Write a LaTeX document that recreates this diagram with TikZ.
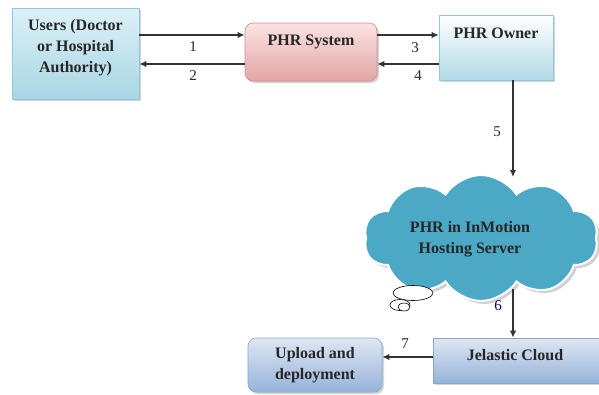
\documentclass[tikz,border=0pt]{standalone}
\usepackage{fontspec}
\setmainfont{Liberation Serif}
\usetikzlibrary{arrows.meta,shapes.symbols,shapes.geometric,shadows,calc}
\definecolor{arr}{HTML}{333333}
\definecolor{cloudfill}{HTML}{4BA9C5}
\definecolor{utop}{HTML}{DDF1F7}
\definecolor{ubot}{HTML}{A8D6E3}
\definecolor{uline}{HTML}{93C6D6}
\definecolor{stop}{HTML}{FBE3E3}
\definecolor{sbot}{HTML}{E2A6A6}
\definecolor{sline}{HTML}{D08C8C}
\definecolor{jtop}{HTML}{DEE7F3}
\definecolor{jbot}{HTML}{96B3D8}
\definecolor{jline}{HTML}{8AA6CC}
\tikzset{
  boxshadow/.style={drop shadow={shadow xshift=2pt,shadow yshift=-2pt,opacity=0.35,fill=gray}},
  ubox/.style={draw=uline, line width=0.6pt, top color=utop, bottom color=ubot, boxshadow},
  sysbox/.style={draw=sline, line width=0.6pt, rounded corners=8pt, top color=stop, bottom color=sbot, boxshadow},
  ownbox/.style={draw=uline, line width=0.6pt, top color=white, bottom color=ubot!90!white, boxshadow},
  jbox/.style={draw=jline, line width=0.6pt, top color=jtop, bottom color=jbot, boxshadow},
  upbox/.style={draw=jline, line width=0.6pt, rounded corners=8pt, top color=jtop, bottom color=jbot, boxshadow},
  btxt/.style={font=\fontsize{16}{21}\selectfont\bfseries, align=center, text=black!85},
  num/.style={font=\fontsize{15}{16}\selectfont, text=black!85},
  flow/.style={draw=arr, line width=1.4pt, -{Latex[length=7pt,width=6.5pt]}},
  bubble/.style={draw=black, fill=white, ellipse, inner sep=0pt, line width=0.6pt},
}
\begin{document}
\begin{tikzpicture}[x=1pt,y=-1pt]
\useasboundingbox (0,0) rectangle (599,394);
% boxes
\node[ubox, minimum width=127pt, minimum height=91pt, inner sep=0pt] (users) at (75.5,53.5) {};
\node[btxt] (userst) at (75.5,48) {Users (Doctor\\or Hospital\\Authority)};
\node[sysbox, minimum width=132pt, minimum height=58pt, inner sep=0pt] (sys) at (311,52) {};
\node[btxt] (syst) at (311,42) {PHR System};
\node[ownbox, minimum width=114pt, minimum height=65pt, inner sep=0pt] (owner) at (496,47.5) {};
\node[btxt] (ownert) at (496,33) {PHR Owner};
% cloud
\node[cloud, cloud puffs=10, cloud puff arc=115, aspect=1.9, minimum width=234pt, minimum height=126pt, fill=gray!60, opacity=0.6] (cloudsh) at (484,241) {};
\node[cloud, cloud puffs=10, cloud puff arc=115, aspect=1.9, minimum width=234pt, minimum height=126pt, fill=cloudfill, draw=white, line width=2pt] (cloud) at (481,238) {};
\node[btxt] (cloudt) at (470,239) {PHR in InMotion\\Hosting Server};
\node[bubble, minimum width=40pt, minimum height=15pt] (bub1) at (413,293) {};
\node[bubble, minimum width=20pt, minimum height=11pt] (bub2) at (400,305) {};
\node[bubble, minimum width=12pt, minimum height=8pt] (bub3) at (404,307) {};
% bottom boxes
\node[jbox, minimum width=166pt, minimum height=45pt, inner sep=0pt] (jel) at (516,360.5) {};
\node[btxt] (jelt) at (515,355) {Jelastic Cloud};
\node[upbox, minimum width=134pt, minimum height=54pt, inner sep=0pt] (up) at (315,365) {};
\node[btxt] (upt) at (315,365) {Upload and\\deployment};
% connector coordinates
\coordinate (ya) at (0,35);
\coordinate (yb) at (0,64);
\coordinate (x5) at (513,0);
\coordinate (c5) at (513,177);
\coordinate (c6) at (513,289);
\coordinate (y7) at (0,357);
% connectors
\draw[flow] (users.east |- ya) -- (sys.west |- ya);
\draw[flow] (sys.west |- yb) -- (users.east |- yb);
\draw[flow] (sys.east |- ya) -- (owner.west |- ya);
\draw[flow] (owner.west |- yb) -- (sys.east |- yb);
\draw[flow] (owner.south -| x5) -- (c5);
\draw[flow] (c6) -- (jel.north -| x5);
\draw[flow] (jel.west |- y7) -- (up.east |- y7);
% labels
\node[num] (n1) at (193,47) {1};
\node[num] (n2) at (193,76) {2};
\node[num] (n3) at (415,48) {3};
\node[num] (n4) at (418,76) {4};
\node[num] (n5) at (497,132) {5};
\node[num, text=blue!40!black] (n6) at (498,306) {6};
\node[num] (n7) at (405,344) {7};
\end{tikzpicture}
\end{document}
